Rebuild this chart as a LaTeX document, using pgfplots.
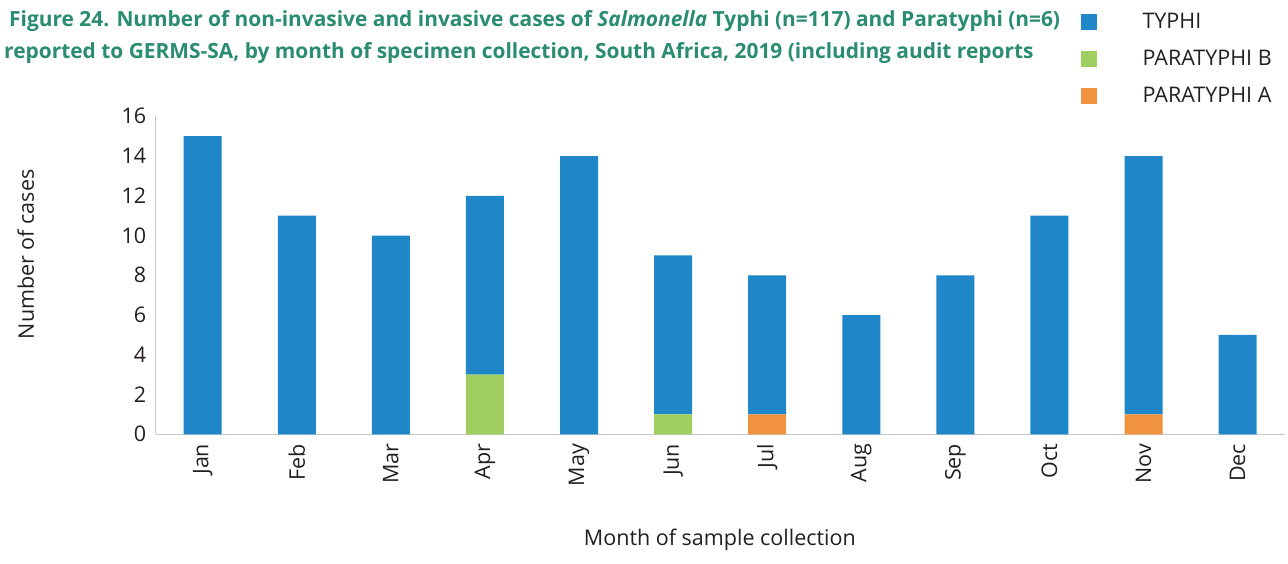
\documentclass[border=0pt]{standalone}
\usepackage{pgfplots}
\pgfplotsset{compat=1.18}
\usepackage{fontspec}
\setmainfont{Open Sans}
\definecolor{typhi}{HTML}{1F86C8}
\definecolor{parab}{HTML}{A1CF5F}
\definecolor{paraa}{HTML}{F0923E}
\definecolor{ttl}{HTML}{2A8C70}
\definecolor{txt}{HTML}{231F20}
\newcommand\fs{\fontsize{21.5}{25}\selectfont}
\begin{document}
\begin{tikzpicture}[x=1pt,y=1pt]
\useasboundingbox (0,0) rectangle (1288,563);
\node[anchor=west,text=ttl,font=\fontsize{20.9}{25}\selectfont\bfseries,inner sep=0pt] at (9,542) {Figure 24. Number of non-invasive and invasive cases of \textit{Salmonella} Typhi (n=117) and Paratyphi (n=6)};
\node[anchor=west,text=ttl,font=\fontsize{20.9}{25}\selectfont\bfseries,inner sep=0pt] at (4,510) {reported to GERMS-SA, by month of specimen collection, South Africa, 2019 (including audit reports};
\begin{axis}[
  at={(155.7pt,128.7pt)}, anchor=south west,
  scale only axis, width=1129pt, height=318pt,
  ybar stacked, bar width=38pt,
  xmin=-0.5, xmax=11.5, ymin=0, ymax=16,
  xtick={0,...,11},
  xticklabels={Jan,Feb,Mar,Apr,May,Jun,Jul,Aug,Sep,Oct,Nov,Dec},
  x tick label style={rotate=90, anchor=east, font=\fs, text=txt},
  xticklabel shift=6pt,
  ytick={0,2,...,16},
  y tick label style={font=\fs, text=txt},
  yticklabel shift=6pt,
  /pgf/number format/assume math mode=true,
  major tick length=0pt,
  axis x line*=bottom, axis y line*=left,
  axis line style={draw=black!22, line width=1pt},
  xlabel={Month of sample collection},
  ylabel={Number of cases},
  label style={font=\fs, text=txt},
  xlabel style={at={(rel axis cs:0.4997,0)}, anchor=north, yshift=-91pt},
  ylabel style={at={(rel axis cs:0,0.5)}, anchor=south, yshift=118pt, xshift=21pt},
  every axis plot/.append style={draw=none},
  reverse legend,
  legend image code/.code={\fill[#1] (0pt,-8pt) rectangle (16pt,8pt);},
  legend style={at={(rel axis cs:0.819,1.33)}, anchor=north west, draw=none, fill=none,
    font=\fs, text=txt, inner sep=0pt, row sep=16pt,
    /tikz/every odd column/.append style={column sep=44pt}},
  legend cell align=left,
]
\addplot+[fill=paraa] coordinates {(0,0) (1,0) (2,0) (3,0) (4,0) (5,0) (6,1) (7,0) (8,0) (9,0) (10,1) (11,0)};
\addplot+[fill=parab] coordinates {(0,0) (1,0) (2,0) (3,3) (4,0) (5,1) (6,0) (7,0) (8,0) (9,0) (10,0) (11,0)};
\addplot+[fill=typhi] coordinates {(0,15) (1,11) (2,10) (3,9) (4,14) (5,8) (6,7) (7,6) (8,8) (9,11) (10,13) (11,5)};
\legend{PARATYPHI A, PARATYPHI B, TYPHI}
\end{axis}
\end{tikzpicture}
\end{document}
